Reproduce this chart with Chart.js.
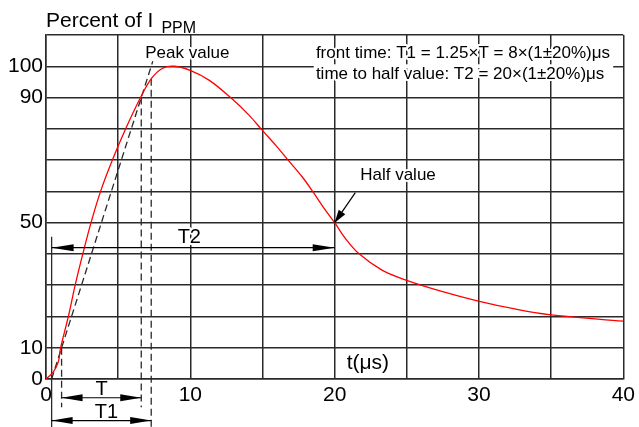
<!DOCTYPE html>
<html>
<head>
<meta charset="utf-8">
<script src="https://cdn.jsdelivr.net/npm/chart.js@4.4.0/dist/chart.umd.min.js"></script>
<style>
    html, body { margin: 0; padding: 0; background: #fff; }
    #wrap { width: 639px; height: 427px; position: relative; }
</style>
</head>
<body>
<div id="wrap"><canvas id="surge-chart"></canvas></div>
<script>
// Impulse current curve (t in us, percent of Ippm)
const timeValues = [0, 0.5, 0.85, 1.01, 1.55, 2.02, 2.55, 3.12, 3.78, 4.6, 5.52, 6.55, 7.31, 8.05, 8.9, 9.99, 11.32, 12.81, 14.08, 14.93, 15.92, 16.79, 17.76, 18.5, 19.37, 20, 20.75, 21.67, 23.28, 24.89, 27.42, 29.88, 32.48, 34.85, 40];
const currentValues = [0, 2.2, 5.4, 9.9, 20, 30, 40, 50, 60, 70, 80, 90, 96.1, 99.3, 100, 98.7, 95.5, 89.9, 84.3, 79.8, 74.7, 69.9, 64.6, 59.8, 53.9, 50, 44.9, 40.1, 34.8, 31.7, 28.0, 25.0, 22.4, 20.6, 18.5];

// Front-time construction (virtual origin, 10% / 90% points, 100% crossing)
const frontLineX = [0.39, 7.4];
const frontLineY = [0, 101.6];
const guideX = [1.08, 6.6, 7.29];
const guideTopY = [10, 90, 96];

// Tick labels that are shown
const xTickLabels = [0, 10, 20, 30, 40];
const yTickLabels = [0, 10, 50, 90, 100];

const FONT = '"Liberation Sans", Arial, sans-serif';
const LINE = '#2a2a2a';

function makeSegment(x1, y1, x2, y2, dashed) {
    return {
        type: 'line',
        data: [{ x: x1, y: y1 }, { x: x2, y: y2 }],
        borderColor: LINE,
        borderWidth: 1.3,
        borderDash: dashed ? [7, 4] : [],
        pointRadius: 0,
        clip: false,
        tension: 0
    };
}

// Helper to draw a line with filled arrow heads
function drawArrow(ctx, x1, y1, x2, y2, startHead, endHead, len, half) {
    ctx.beginPath();
    ctx.moveTo(x1, y1);
    ctx.lineTo(x2, y2);
    ctx.stroke();
    const ang = Math.atan2(y2 - y1, x2 - x1);
    const head = (x, y, a) => {
        ctx.beginPath();
        ctx.moveTo(x, y);
        ctx.lineTo(x - len * Math.cos(a) + half * Math.sin(a), y - len * Math.sin(a) - half * Math.cos(a));
        ctx.lineTo(x - len * Math.cos(a) - half * Math.sin(a), y - len * Math.sin(a) + half * Math.cos(a));
        ctx.closePath();
        ctx.fill();
    };
    if (endHead) head(x2, y2, ang);
    if (startHead) head(x1, y1, ang + Math.PI);
}

function haloText(ctx, text, x, y) {
    ctx.save();
    ctx.strokeStyle = '#fff';
    ctx.lineWidth = 4;
    ctx.lineJoin = 'round';
    ctx.strokeText(text, x, y);
    ctx.restore();
    ctx.fillText(text, x, y);
}

const annotationPlugin = {
    id: 'surgeAnnotations',
    afterDatasetsDraw(chart) {
        const ctx = chart.ctx;
        const xs = chart.scales.x;
        const ys = chart.scales.y;
        const px = v => xs.getPixelForValue(v);
        const py = v => ys.getPixelForValue(v);

        ctx.save();
        ctx.fillStyle = '#000';
        ctx.strokeStyle = '#000';
        ctx.lineWidth = 1.2;

        // Axis title with subscript
        ctx.textBaseline = 'alphabetic';
        ctx.textAlign = 'left';
        ctx.font = '21px ' + FONT;
        const left = chart.chartArea.left;
        ctx.fillText('Percent of I', left, 27);
        const w = ctx.measureText('Percent of I').width;
        ctx.font = '16px ' + FONT;
        ctx.fillText('PPM', left + w + 8, 33);

        // Clear the 100% grid line under the formula text
        ctx.fillStyle = '#fff';
        ctx.fillRect(px(18.55), py(100) - 2, px(39.3) - px(18.55), 4);
        ctx.fillStyle = '#000';

        ctx.textBaseline = 'middle';
        ctx.font = '17px ' + FONT;
        ctx.textAlign = 'left';
        haloText(ctx, 'front time: T1 = 1.25\u00d7T = 8\u00d7(1\u00b120%)\u03bcs', px(18.7), py(104.25));
        haloText(ctx, 'time to half value: T2 = 20\u00d7(1\u00b120%)\u03bcs', px(18.7), py(97.4));
        ctx.textAlign = 'center';
        haloText(ctx, 'Peak value', px(9.79), py(104.25));
        ctx.textAlign = 'left';
        haloText(ctx, 'Half value', px(21.77), py(65.1));

        // Half value pointer
        drawArrow(ctx, px(21.43), py(59.6), px(20), py(50), false, true, 13, 4);

        // T2, T and T1 dimension arrows
        drawArrow(ctx, px(frontLineX[0]), py(42), px(20), py(42), true, true, 22, 3.5);
        drawArrow(ctx, px(guideX[0]), py(-6), px(guideX[1]), py(-6), true, true, 21, 3.5);
        drawArrow(ctx, px(frontLineX[0]), py(-13.3), px(guideX[2]), py(-13.3), true, true, 21, 3.5);

        ctx.font = '20px ' + FONT;
        ctx.textAlign = 'center';
        haloText(ctx, 'T2', px(9.93), py(45.3));
        ctx.fillText('T', px(3.85), py(-3.3));
        ctx.fillText('T1', px(4.19), py(-10.6));

        ctx.font = '21px ' + FONT;
        ctx.fillText('t(\u03bcs)', px(22.3), py(5));
        ctx.restore();
    }
};

document.addEventListener('DOMContentLoaded', function() {
    const canvas = document.getElementById('surge-chart');

    const curve = timeValues.map((t, i) => ({ x: t, y: currentValues[i] }));

    const datasets = [
        {
            type: 'line',
            data: curve,
            borderColor: '#ff0000',
            borderWidth: 1.3,
            pointRadius: 0,
            tension: 0.35,
            cubicInterpolationMode: 'default',
            clip: false
        },
        makeSegment(frontLineX[0], frontLineY[0], frontLineX[1], frontLineY[1], true),
        makeSegment(frontLineX[0], 45.5, frontLineX[0], -15.5, false),
        makeSegment(guideX[0], guideTopY[0], guideX[0], -9, true),
        makeSegment(guideX[1], guideTopY[1], guideX[1], -9, true),
        makeSegment(guideX[2], guideTopY[2], guideX[2], -15.5, true)
    ];

    new Chart(canvas, {
        type: 'scatter',
        data: { datasets: datasets },
        options: {
            responsive: true,
            maintainAspectRatio: false,
            animation: false,
            layout: { padding: { top: 35, right: 14, left: 0, bottom: 0 } },
            plugins: {
                legend: { display: false },
                tooltip: { enabled: false }
            },
            scales: {
                x: {
                    type: 'linear',
                    min: 0,
                    max: 40,
                    afterFit: s => { s.height = 48; },
                    grid: { color: LINE, lineWidth: 1.5, drawTicks: false },
                    border: { color: LINE, width: 1.5 },
                    ticks: {
                        stepSize: 5,
                        padding: 4,
                        color: '#000',
                        font: { family: FONT, size: 21 },
                        maxRotation: 0,
                        autoSkip: false,
                        callback: v => xTickLabels.includes(v) ? String(v) : ''
                    }
                },
                y: {
                    type: 'linear',
                    min: 0,
                    max: 110,
                    afterFit: s => { s.width = 46; },
                    grid: { color: LINE, lineWidth: 1.5, drawTicks: false },
                    border: { color: LINE, width: 1.5 },
                    ticks: {
                        stepSize: 10,
                        padding: 3,
                        color: '#000',
                        font: { family: FONT, size: 21 },
                        autoSkip: false,
                        callback: v => yTickLabels.includes(v) ? String(v) : ''
                    }
                }
            }
        },
        plugins: [annotationPlugin]
    });
});
</script>
</body>
</html>
